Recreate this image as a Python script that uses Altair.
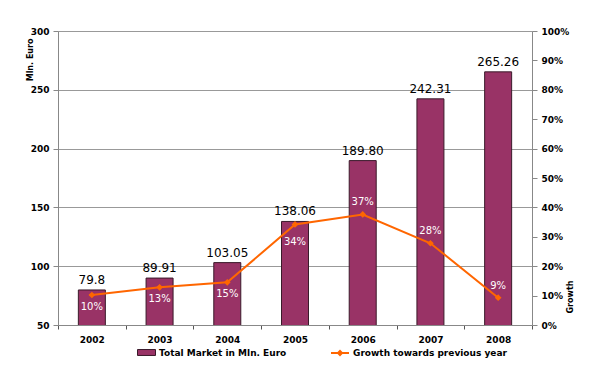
import altair as alt
import pandas as pd

years = ["2002", "2003", "2004", "2005", "2006", "2007", "2008"]
market = [79.8, 89.91, 103.05, 138.06, 189.80, 242.31, 265.26]
market_labels = ["79.8", "89.91", "103.05", "138.06", "189.80", "242.31", "265.26"]
growth = [0.102, 0.128, 0.145, 0.342, 0.376, 0.278, 0.093]
growth_labels = ["10%", "13%", "15%", "34%", "37%", "28%", "9%"]
label_side = ["below", "below", "below", "far", "above", "above", "above"]
right_ticks = [0.0, 0.1, 0.2, 0.3, 0.4, 0.5, 0.6, 0.7, 0.8, 0.9, 1.0]
left_ticks = [50, 100, 150, 200, 250, 300]

bar_name = "Total Market in Mln. Euro"
line_name = "Growth towards previous year"

df = pd.DataFrame({
    "year": years, "market": market, "mlabel": market_labels,
    "growth": growth, "glabel": growth_labels, "side": label_side,
    "bs": bar_name, "ls": line_name,
})

FONT = "DejaVu Sans"
W, H = 474, 294

x_enc = alt.X("year:N", sort=years,
              scale=alt.Scale(paddingInner=0, paddingOuter=0),
              axis=alt.Axis(title=None, labelAngle=0, tickBand="extent",
                            ticks=True, tickSize=4, tickColor="#555", domainColor="#888",
                            labelFont=FONT, labelFontWeight="bold", labelFontSize=9,
                            labelPadding=6, labelColor="#000"))
y_left = alt.Y("market:Q", scale=alt.Scale(domain=[50, 300], zero=False, nice=False),
               axis=alt.Axis(title="Mln. Euro", values=left_ticks,
                             grid=True, gridColor="#999", domainColor="#888", tickColor="#888",
                             tickSize=5, labelFont=FONT, labelFontWeight="bold", labelFontSize=9,
                             labelColor="#000", labelPadding=4,
                             titleFont=FONT, titleFontSize=8, titleFontWeight="bold",
                             titleAngle=270, titleX=-28, titleY=7, titleAlign="right",
                             titleBaseline="middle", titleColor="#000"))

bars = alt.Chart(df).mark_bar(size=27, clip=True, stroke="#3a1a2a", strokeWidth=1).encode(
    fill=alt.Fill("bs:N", scale=alt.Scale(domain=[bar_name], range=["#993366"]),
                  legend=alt.Legend(orient="none", legendX=79, legendY=312, title=None,
                                    symbolType="M-1,-0.33H1V0.33H-1Z", symbolSize=324,
                                    symbolStrokeColor="#3a1a2a", symbolStrokeWidth=1,
                                    symbolOffset=0, labelOffset=3,
                                    labelFont=FONT, labelFontSize=9, labelFontWeight="bold",
                                    labelColor="#000")),
)
bar_text = alt.Chart(df).mark_text(dy=-10, font=FONT, fontSize=12, color="#000").encode(
    text="mlabel:N")

left = alt.layer(bars, bar_text).encode(x=x_enc, y=y_left)

y_right = alt.Y("growth:Q", scale=alt.Scale(domain=[0, 1], nice=False),
                axis=alt.Axis(title="Growth", orient="right", format=".0%",
                              values=right_ticks, tickCount=11, grid=False,
                              labelOverlap=False,
                              domainColor="#888", tickColor="#888", tickSize=5,
                              labelFont=FONT, labelFontWeight="bold", labelFontSize=9,
                              labelColor="#000", labelPadding=4,
                              titleFont=FONT, titleFontSize=8, titleFontWeight="bold",
                              titleAngle=270, titleX=38, titleY=282, titleAlign="left",
                              titleBaseline="middle", titleColor="#000"))

line = alt.Chart(df).mark_line(strokeWidth=2).encode(
    stroke=alt.Stroke("ls:N", scale=alt.Scale(domain=[line_name], range=["#ff6600"]),
                      legend=alt.Legend(orient="none", legendX=272, legendY=312, title=None,
                                        symbolType="M-1,0H1M-0.22,0L0,-0.22L0.22,0L0,0.22Z",
                                        symbolSize=324, symbolStrokeWidth=2,
                                        symbolFillColor="#ff6600", labelOffset=3,
                                        labelFont=FONT, labelFontSize=9, labelFontWeight="bold",
                                        labelColor="#000")),
)
pts = alt.Chart(df).mark_point(shape="diamond", filled=True, size=45, color="#ff6600", opacity=1).encode()
below = alt.Chart(df).transform_filter(alt.datum.side == "below").mark_text(
    dy=12, font=FONT, fontSize=10, color="#ffffff").encode(text="glabel:N")
far = alt.Chart(df).transform_filter(alt.datum.side == "far").mark_text(
    dy=18, font=FONT, fontSize=10, color="#ffffff").encode(text="glabel:N")
above = alt.Chart(df).transform_filter(alt.datum.side == "above").mark_text(
    dy=-12, font=FONT, fontSize=10, color="#ffffff").encode(text="glabel:N")

right = alt.layer(line, pts, below, far, above).encode(
    x=alt.X("year:N", sort=years), y=y_right)

chart = alt.layer(left, right).resolve_scale(y="independent").properties(
    width=W, height=H,
    autosize=alt.AutoSizeParams(type="none"),
    padding={"left": 50, "top": 23, "right": 60, "bottom": 38},
).configure_view(stroke=None).configure(background="#ffffff")

chart.save("out.html", embed_options={"renderer": "svg", "actions": False})
